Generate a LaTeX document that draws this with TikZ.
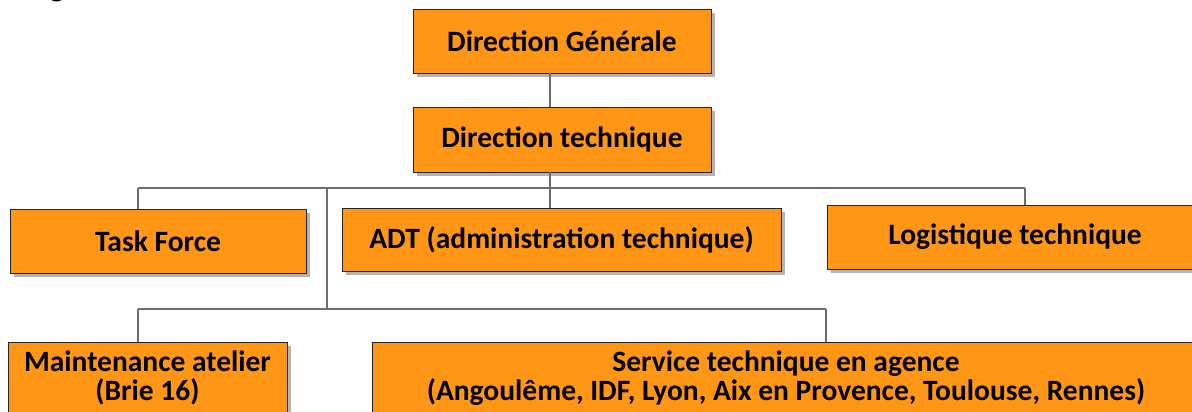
\documentclass[tikz,border=0pt]{standalone}
\usepackage{fontspec}
\setmainfont{Carlito}
\usetikzlibrary{shadows}
\definecolor{boxorange}{HTML}{FF9616}
\definecolor{linegray}{HTML}{6E6E6E}
\definecolor{shadowgray}{HTML}{B3B3B3}
\tikzset{
 orgbox/.style={draw=black!85, line width=0.9pt, fill=boxorange,
   font=\bfseries\fontsize{29.5}{29}\selectfont, align=center, inner sep=0pt,
   drop shadow={shadow xshift=4pt, shadow yshift=-4pt, fill=shadowgray, opacity=1}},
 conn/.style={draw=linegray, line width=1.1pt},
}
\begin{document}
\begin{tikzpicture}[x=1pt,y=-1pt]
\useasboundingbox (0,0) rectangle (1192,412);
\clip (0,0) rectangle (1192,412);
\node[font=\bfseries\fontsize{32}{36}\selectfont, anchor=base, inner sep=0pt] (title) at (57,-3) {g};
\node[orgbox, minimum width=298pt, minimum height=64pt] (dg) at (562,41) {Direction Générale};
\node[orgbox, minimum width=298pt, minimum height=65pt] (dt) at (562,139.5) {Direction technique};
\node[orgbox, minimum width=296pt, minimum height=64pt] (tf) at (158,241) {Task Force};
\node[orgbox, minimum width=439pt, minimum height=63pt] (adt) at (561.5,239.5) {ADT (administration technique)};
\node[orgbox, minimum width=376pt, minimum height=64pt] (log) at (1015,237) {Logistique technique};
\node[orgbox, minimum width=279pt, minimum height=72pt] (mnt) at (147.5,378) {Maintenance atelier\\(Brie 16)};
\node[orgbox, minimum width=828pt, minimum height=72pt] (svc) at (786,378) {Service technique en agence\\(Angoulême, IDF, Lyon, Aix en Provence, Toulouse, Rennes)};
\coordinate (xa) at (550,0);
\coordinate (xtf) at (138,0);
\coordinate (xlog) at (1025,0);
\coordinate (xmid) at (327,0);
\coordinate (xsvc) at (826,0);
\coordinate (busA) at (0,188);
\coordinate (busB) at (0,309);
\draw[conn] (dg.south -| xa) -- (dt.north -| xa);
\draw[conn] (dt.south -| xa) -- (busA -| xa);
\draw[conn] (busA -| xtf) -- (busA -| xlog);
\draw[conn] (busA -| xtf) -- (tf.north -| xtf);
\draw[conn] (busA -| xa) -- (adt.north -| xa);
\draw[conn] (busA -| xlog) -- (log.north -| xlog);
\draw[conn] (busA -| xmid) -- (busB -| xmid);
\draw[conn] (busB -| xtf) -- (busB -| xsvc);
\draw[conn] (busB -| xtf) -- (mnt.north -| xtf);
\draw[conn] (busB -| xsvc) -- (svc.north -| xsvc);
\end{tikzpicture}
\end{document}
